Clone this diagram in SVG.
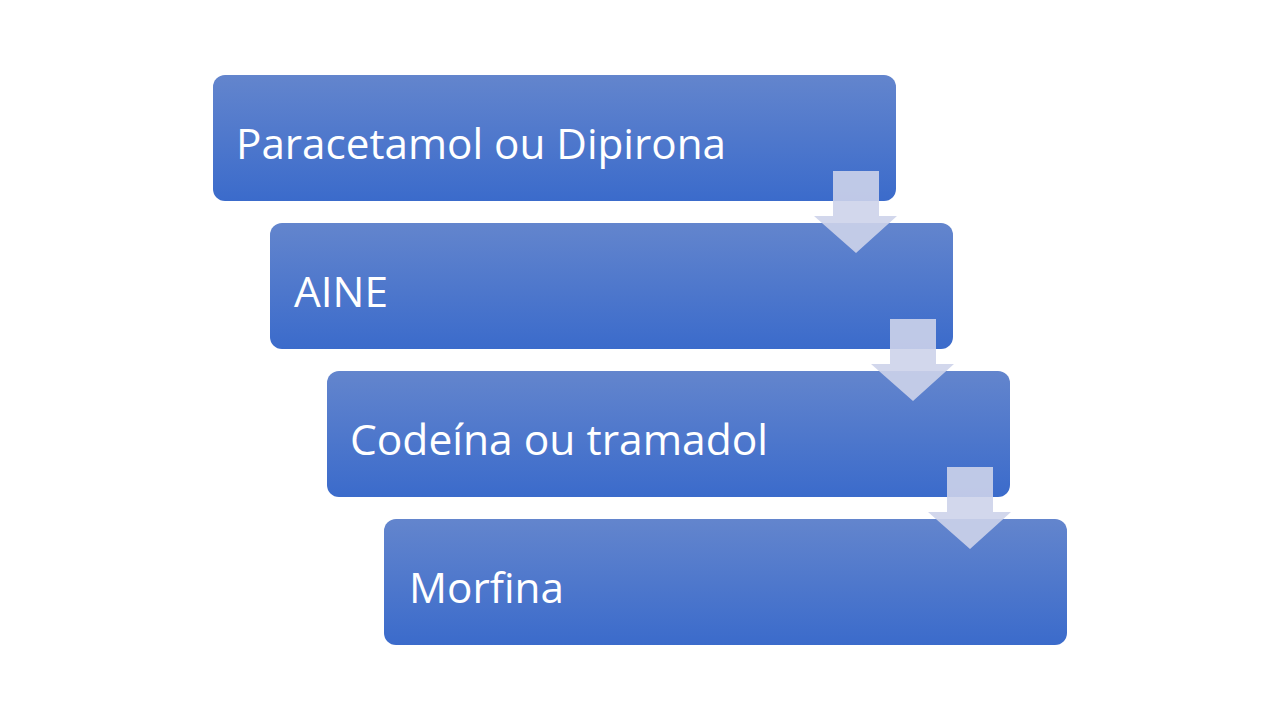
<svg xmlns="http://www.w3.org/2000/svg" width="1280" height="720" viewBox="0 0 1280 720">
<defs>
<linearGradient id="g" x1="0" y1="0" x2="0" y2="1">
<stop offset="0" stop-color="#6385cd"/>
<stop offset="1" stop-color="#3b6bcb"/>
</linearGradient>
<style>
.box{fill:url(#g);}
.t{font-family:"Open Sans","Noto Sans","Liberation Sans",sans-serif;font-size:42px;fill:#ffffff;}
.arr{fill:#cdd3ea;fill-opacity:0.9;}
</style>
</defs>
<rect width="1280" height="720" fill="#ffffff"/>
<g id="node1"><rect class="box" x="213" y="75" width="683" height="126" rx="12"/><text class="t" x="236" y="159" textLength="490" lengthAdjust="spacingAndGlyphs">Paracetamol ou Dipirona</text></g>
<g id="node2"><rect class="box" x="270" y="223" width="683" height="126" rx="12"/><text class="t" x="294" y="307" textLength="94" lengthAdjust="spacingAndGlyphs">AINE</text></g>
<g id="node3"><rect class="box" x="327" y="371" width="683" height="126" rx="12"/><text class="t" x="350" y="455" textLength="418" lengthAdjust="spacingAndGlyphs">Codeína ou tramadol</text></g>
<g id="node4"><rect class="box" x="384" y="519" width="683" height="126" rx="12"/><text class="t" x="409" y="603" textLength="155" lengthAdjust="spacingAndGlyphs">Morfina</text></g>
<g id="connectors">
<path class="arr" d="M833,171 H879 V216 H897 L856,253 L814,216 H833 Z"/>
<path class="arr" d="M890,319 H936 V364 H954 L913,401 L871,364 H890 Z"/>
<path class="arr" d="M947,467 H993 V512 H1011 L970,549 L928,512 H947 Z"/>
</g>
</svg>
